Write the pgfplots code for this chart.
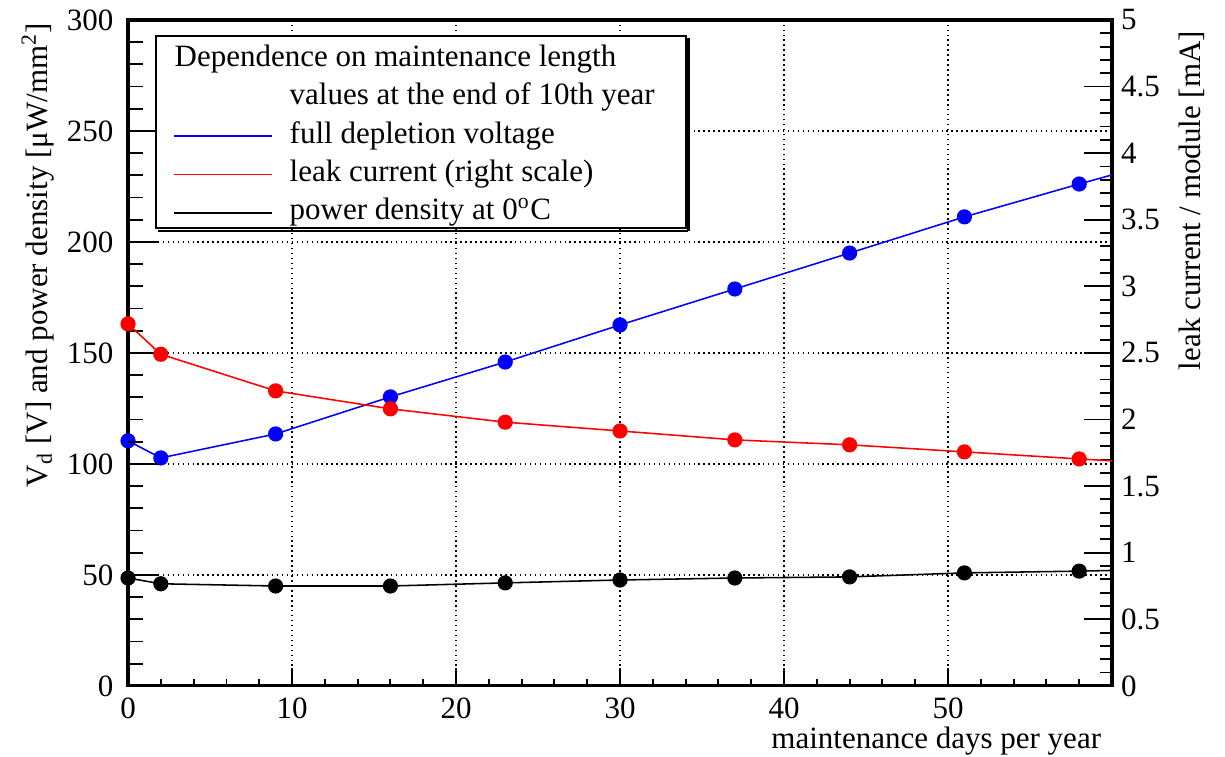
\documentclass[border=0pt]{standalone}
\usepackage{fontspec}
\setmainfont{Liberation Serif}
\usepackage{pgfplots}
\pgfplotsset{compat=1.18}

\definecolor{rblue}{RGB}{0,0,255}
\definecolor{rred}{RGB}{255,0,0}

\pgfplotstableread{
x    y
0    110.4
2    102.7
9    113.5
16   130.2
23   145.9
30   162.6
37   178.8
44   195.0
51   211.3
58   226.1
60   230.2
}\vdep

\pgfplotstableread{
x    y
0    2.718
2    2.490
9    2.215
16   2.080
23   1.980
30   1.914
37   1.847
44   1.810
51   1.757
58   1.704
60   1.690
}\leak

\pgfplotstableread{
x    y
0    48.6
2    46.0
9    45.0
16   45.0
23   46.4
30   47.7
37   48.6
44   49.1
51   50.9
58   51.7
60   52.0
}\power

\begin{document}
\begin{tikzpicture}
\pgfplotsset{
  common/.style={
    scale only axis,
    width=317.4pt, height=214.8pt,
    xmin=0, xmax=60,
    clip=false,
    axis line style={line width=1pt},
    tick align=inside,
    tick style={line width=0.6pt, black},
    /pgf/number format/assume math mode=true,
    tick label style={font=\normalsize},
  },
}
% axis 1: grid, x ticks, blue and black series
\begin{axis}[common, name=ax,
  ymin=0, ymax=300,
  xtick={0,10,20,30,40,50,60},
  xticklabels={0,10,20,30,40,50,{}},
  minor x tick num=4,
  xtick pos=bottom,
  major tick length=5.8pt, minor tick length=2.3pt,
  ytick={0,50,100,150,200,250,300},
  yticklabels={},
  ytick style={draw=none},
  grid=major,
  major grid style={line width=0.5pt, black, dash pattern=on 0.5pt off 1.1pt},
  xticklabel style={yshift=-0.3pt},
]
\addplot[rblue, line width=0.5pt, mark=*, mark size=2.2pt, mark indices={1,2,3,4,5,6,7,8,9,10}] table[x=x,y=y] {\vdep};
\addplot[black, line width=0.5pt, mark=*, mark size=2.2pt, mark indices={1,2,3,4,5,6,7,8,9,10}] table[x=x,y=y] {\power};
\node[anchor=base east, font=\normalsize] at (axis description cs:1,-0.0935) {maintenance days per year};
\node[rotate=90, anchor=base east, font=\normalsize] at (axis description cs:-0.0822,1.012) {V\textsubscript{d} [V] and power density [μW/mm\textsuperscript{2}]};
\end{axis}

% axis 2: left ticks with longer length
\begin{axis}[common,
  ymin=0, ymax=300,
  axis line style={draw=none},
  xtick=\empty,
  ytick={0,50,100,150,200,250,300},
  minor y tick num=4,
  ytick pos=left,
  major tick length=9.7pt, minor tick length=4.8pt,
  yticklabel style={xshift=-1.2pt},
]
\end{axis}

% axis 3: right scale, red series, legend
\begin{axis}[common,
  ymin=0, ymax=5,
  axis line style={draw=none},
  xtick=\empty,
  ytick={0,0.5,1,1.5,2,2.5,3,3.5,4,4.5,5},
  minor y tick num=4,
  ytick pos=right,
  yticklabel pos=right,
  yticklabel style={xshift=-0.6pt},
  major tick length=9pt, minor tick length=3.9pt,
  legend image code/.code={\draw[#1] (0pt,2.3pt) -- (31.6pt,2.3pt);},
  legend style={
    at={(rel axis cs:0.0274,0.9775)}, anchor=north west,
    draw=black, line width=0.7pt, fill=white,
    inner xsep=5.5pt, inner ysep=0pt,
    column sep=5.5pt, row sep=0pt,
    font=\normalsize,
    nodes={inner sep=0pt, text height=9.7pt, text depth=2.7pt, anchor=base west},
    append after command={
      ([xshift=1.0pt,yshift=-0.55pt]\tikzlastnode.south west) edge[draw=black, line width=0.8pt, -]
      ([xshift=0.55pt,yshift=-0.55pt]\tikzlastnode.south east)
      ([xshift=0.55pt,yshift=-0.55pt]\tikzlastnode.south east) edge[draw=black, line width=0.8pt, -]
      ([xshift=0.55pt,yshift=-1.0pt]\tikzlastnode.north east)
    },
  },
]
\addlegendimage{empty legend}
\addlegendentry{\makebox[122.2pt][l]{\hspace*{-37.1pt}Dependence on maintenance length}}
\addlegendimage{empty legend}
\addlegendentry{\makebox[122.2pt][l]{values at the end of 10th year}}
\addlegendimage{rblue, line width=0.5pt}
\addlegendentry{full depletion voltage}
\addplot[rred, line width=0.5pt, mark=*, mark size=2.2pt, mark indices={1,2,3,4,5,6,7,8,9,10}] table[x=x,y=y] {\leak};
\addlegendentry{leak current (right scale)}
\addlegendimage{black, line width=0.5pt}
\addlegendentry{power density at 0\textsuperscript{o}C}
\node[rotate=90, anchor=base east, font=\normalsize] at (axis description cs:1.0895,1.0) {leak current / module [mA]};
\end{axis}

\pgfresetboundingbox
\path[use as bounding box] ([shift={(-41.3pt,-22.9pt)}]ax.south west) rectangle ([shift={(36.45pt,6.45pt)}]ax.north east);
\end{tikzpicture}
\end{document}
